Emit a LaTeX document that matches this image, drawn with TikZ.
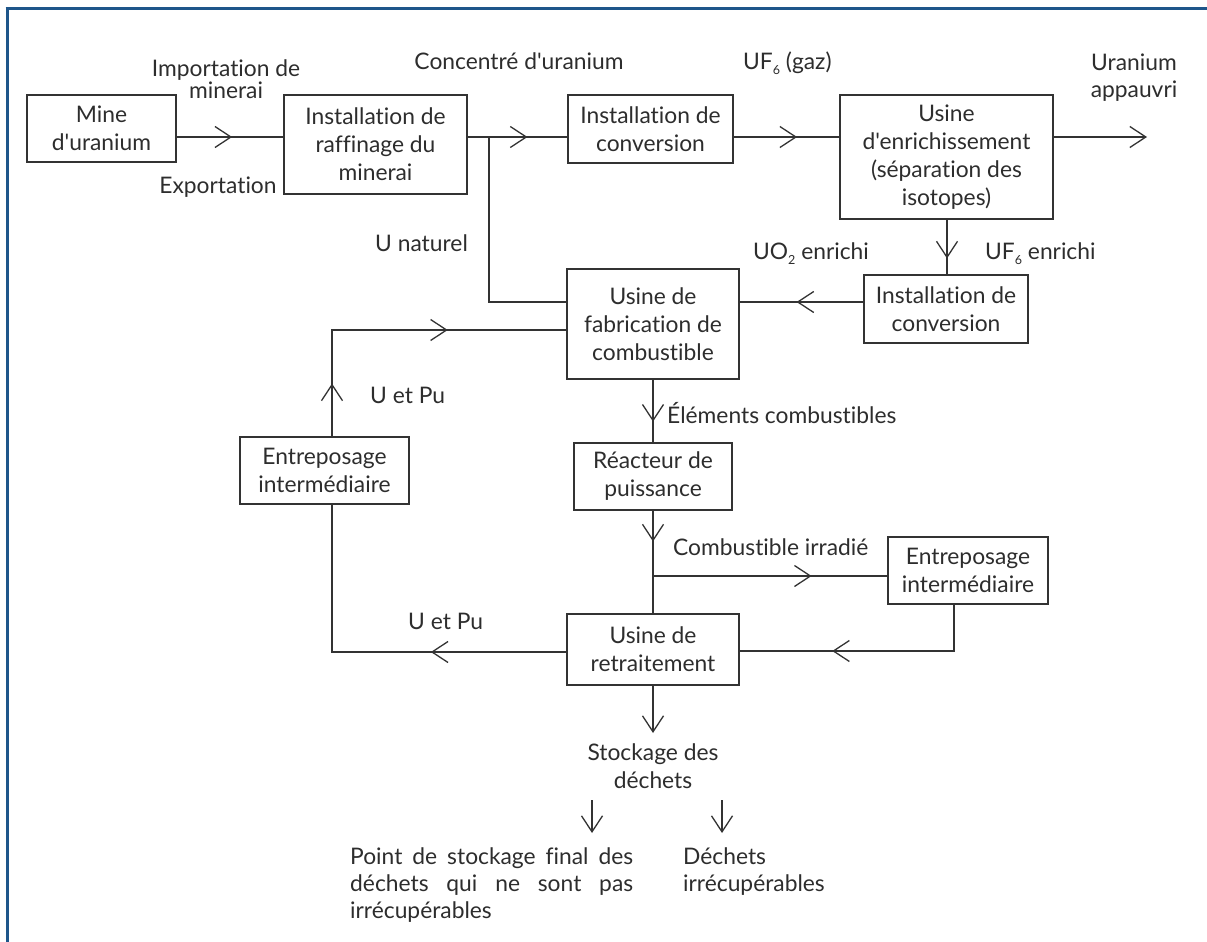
\documentclass[tikz,border=0pt]{standalone}
\usepackage{fontspec}
\setmainfont{Lato}[Ligatures={TeXOff,NoCommon}]
\usetikzlibrary{arrows.meta,decorations.markings}
\definecolor{linec}{RGB}{51,51,51}
\definecolor{textc}{RGB}{45,45,45}
\definecolor{framec}{RGB}{30,86,138}
\newcommand{\mainsz}{\fontsize{22.8}{28}\selectfont}
\newcommand{\subsc}[1]{\raisebox{-5pt}{\fontsize{12.5}{12.5}\selectfont #1}}
\tikzset{
  barb/.tip={Straight Barb[length=16pt,width=21pt]},
  conn/.style={draw=linec, line width=1.3pt},
  midarr/.style={postaction={decorate,decoration={markings,mark=at position #1 with {\arrow{barb}}}}},
  box/.style={draw=linec, line width=1.4pt, inner sep=0pt, align=center, font=\mainsz, text=textc},
  lbl/.style={inner sep=0pt, font=\mainsz, text=textc},
}
\begin{document}
\begin{tikzpicture}[x=1pt,y=-1pt]
\useasboundingbox (0,0) rectangle (1207,942);
% frame
\draw[framec, line width=3pt] (5.5,9) -- (1207,9);
\draw[framec, line width=3pt] (7,9) -- (7,942);

% boxes
\node[box, minimum width=149pt, minimum height=67pt] (mine) at (101.5,128.5) {Mine\\d'uranium};
\node[box, minimum width=183pt, minimum height=99pt] (raff) at (375.5,144.5) {Installation de\\raffinage du\\minerai};
\node[box, minimum width=165pt, minimum height=68pt] (conv1) at (650.5,129) {Installation de\\conversion};
\node[box, minimum width=213pt, minimum height=124pt] (enr) at (946.5,157) {Usine\\d'enrichissement\\(séparation des\\isotopes)};
\node[box, minimum width=164pt, minimum height=68pt] (conv2) at (946,309) {Installation de\\conversion};
\node[box, minimum width=172pt, minimum height=110pt] (fab) at (653,324) {Usine de\\fabrication de\\combustible};
\node[box, minimum width=158pt, minimum height=67pt] (reac) at (653,476.5) {Réacteur de\\puissance};
\node[box, minimum width=169pt, minimum height=67pt] (entL) at (324.5,470.5) {Entreposage\\intermédiaire};
\node[box, minimum width=160pt, minimum height=67pt] (entR) at (968,570.5) {Entreposage\\intermédiaire};
\node[box, minimum width=172pt, minimum height=71pt] (retr) at (653,649.5) {Usine de\\retraitement};

% helper coordinates
\coordinate (r1) at (0,137);
\coordinate (j1) at (489,137);
\coordinate (nat) at (0,302);
\coordinate (xenr) at (947,0);
\coordinate (rec) at (0,330);
\coordinate (xl) at (332,0);
\coordinate (ret) at (0,652);
\coordinate (br) at (653,576);
\coordinate (xr) at (954,0);
\coordinate (ret2) at (0,651);
\coordinate (out) at (1147,137);
\coordinate (d1) at (653,733);
\coordinate (a1s) at (592,800);
\coordinate (a1e) at (592,833);
\coordinate (a2s) at (722,800);
\coordinate (a2e) at (722,833);

% connectors
\draw[conn, midarr=0.52] (mine.east |- r1) -- (raff.west |- r1);
\draw[conn, midarr=0.60] (raff.east |- r1) -- (conv1.west |- r1);
\draw[conn] (j1) |- (fab.west |- nat);
\draw[conn, midarr=0.60] (conv1.east |- r1) -- (enr.west |- r1);
\draw[conn, -{barb}] (enr.east |- r1) -- (out);
\draw[conn, midarr=0.71] (enr.south -| xenr) -- (conv2.north -| xenr);
\draw[conn, midarr=0.54] (conv2.west |- nat) -- (fab.east |- nat);
\draw[conn, midarr=0.155, midarr=0.652] (entL.north -| xl) |- (fab.west |- rec);
\draw[conn, midarr=0.355] (retr.west |- ret) -| (entL.south -| xl);
\draw[conn, midarr=0.67] (fab.south) -- (reac.north);
\draw[conn, midarr=0.30] (reac.south) -- (retr.north);
\draw[conn, midarr=0.677] (br) -- (entR.west |- br);
\draw[conn, midarr=0.645] (entR.south -| xr) |- (retr.east |- ret2);
\draw[conn, -{barb}] (retr.south) -- (d1);
\draw[conn, -{barb}] (a1s) -- (a1e);
\draw[conn, -{barb}] (a2s) -- (a2e);

% labels (base anchor = baseline of last line)
\node[lbl, anchor=base, align=center, font=\fontsize{22.8}{22}\selectfont] (limp) at (226,99) {Importation de\\minerai};
\node[lbl, anchor=base] (lexp) at (218,193) {Exportation};
\node[lbl, anchor=base] (lconc) at (519,70) {Concentré d'uranium};
\node[lbl, anchor=base west] (luf) at (743,70) {UF\subsc{6} (gaz)};
\node[lbl, anchor=base, align=center, font=\fontsize{22.8}{27}\selectfont] (lapp) at (1134,97) {Uranium\\appauvri};
\node[lbl, anchor=base west] (lnat) at (375,251) {U naturel};
\node[lbl, anchor=base west] (luo) at (753,259) {UO\subsc{2} enrichi};
\node[lbl, anchor=base west] (lufe) at (985,259) {UF\subsc{6} enrichi};
\node[lbl, anchor=base west] (lup1) at (370,403) {U et Pu};
\node[lbl, anchor=base west] (lel) at (667,423) {Éléments combustibles};
\node[lbl, anchor=base west] (lirr) at (673,555) {Combustible irradié};
\node[lbl, anchor=base west] (lup2) at (408,629) {U et Pu};
\node[lbl, anchor=base, align=center] (lsto) at (653,788) {Stockage des\\déchets};
\node[lbl, anchor=base west, align=left, font=\fontsize{22.8}{27}\selectfont] (lpt) at (350,918) {\makebox[283pt][s]{Point de stockage final des}\\\makebox[283pt][s]{déchets qui ne sont pas}\\irrécupérables};
\node[lbl, anchor=base west, align=left, font=\fontsize{22.8}{27}\selectfont] (ldec) at (683,891) {Déchets\\irrécupérables};
\end{tikzpicture}
\end{document}
